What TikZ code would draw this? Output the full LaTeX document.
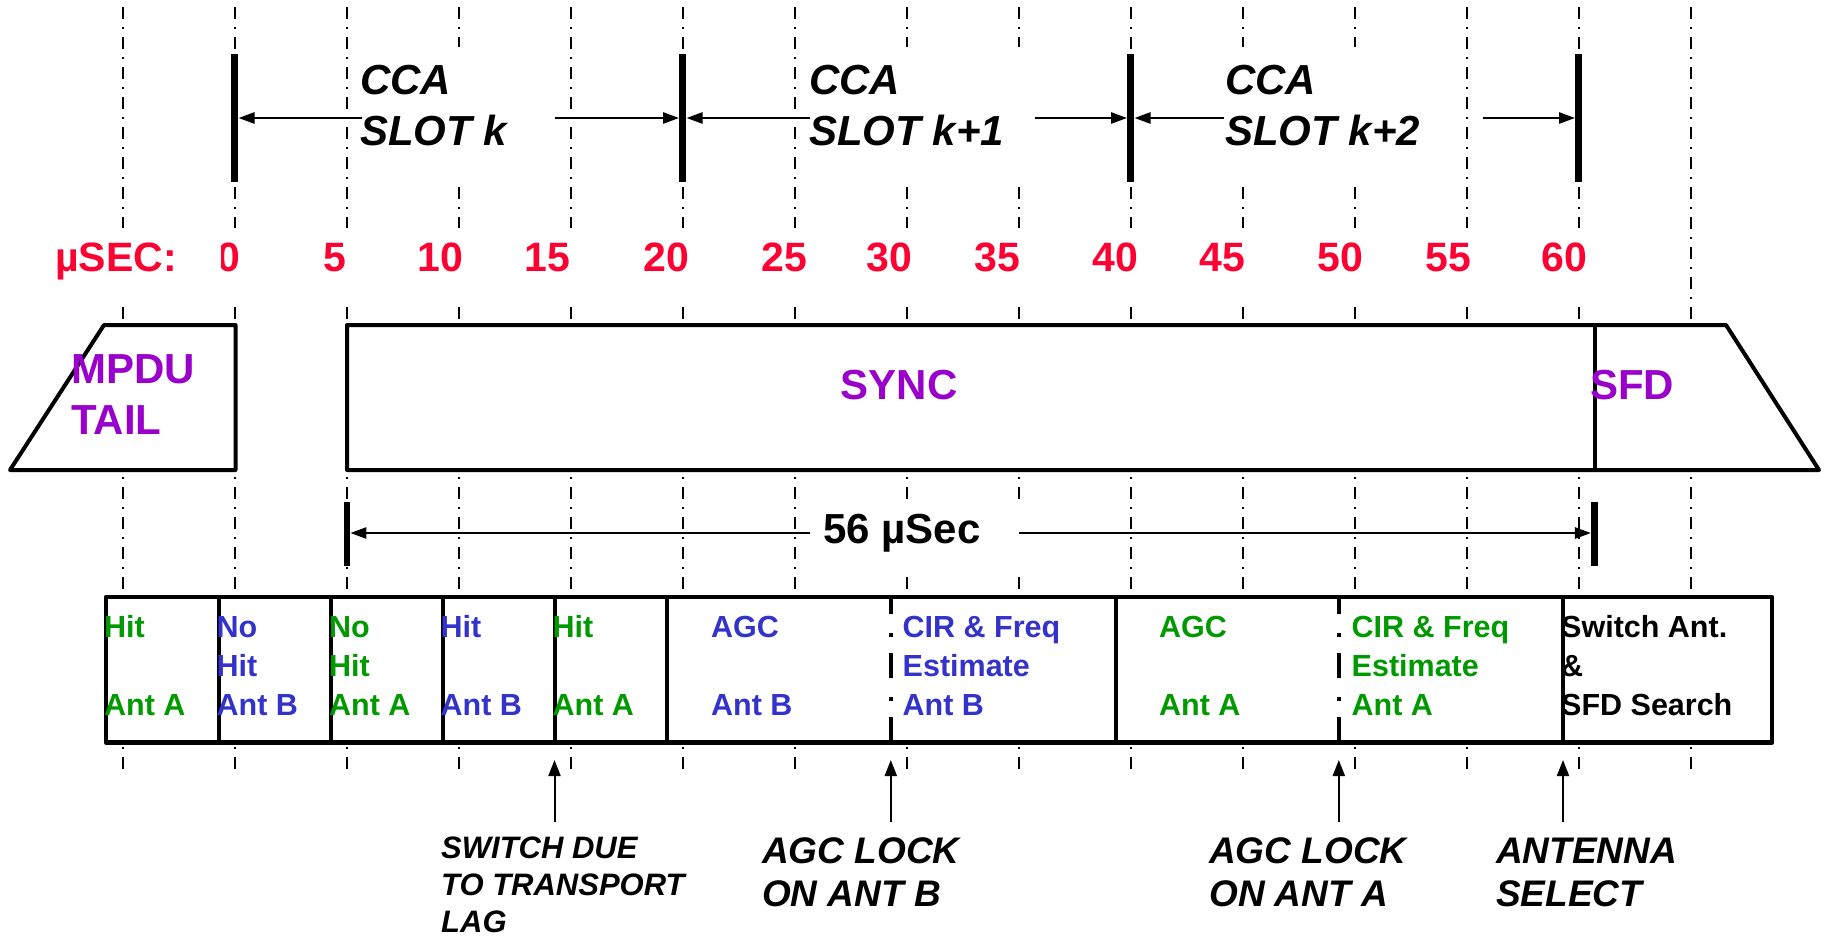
\documentclass[tikz,border=0pt]{standalone}
\usepackage{fontspec}
\setmainfont{Liberation Sans}
\usetikzlibrary{arrows.meta}
\definecolor{cred}{HTML}{FF0033}
\definecolor{cgreen}{HTML}{009900}
\definecolor{cblue}{HTML}{3333CC}
\definecolor{cpurple}{HTML}{9900CC}
\begin{document}
\begin{tikzpicture}[x=1pt,y=-1pt,
  bgline/.style={line width=2pt, dash pattern=on 12pt off 8pt on 2pt off 8pt},
  frame/.style={line width=4pt, line join=round},
  divider/.style={line width=4pt},
  dashdiv/.style={line width=4.5pt, dash pattern=on 25pt off 19pt on 4pt off 16pt, dash phase=8pt},
  bar/.style={fill=black, inner sep=0pt, minimum width=7pt, minimum height=128pt},
  sbar/.style={fill=black, inner sep=0pt, minimum width=6.5pt, minimum height=64pt},
  arr/.style={line width=2.5pt, -{Triangle[length=16pt,width=11pt]}},
  uparr/.style={line width=2pt, -{Triangle[length=16pt,width=12pt]}},
  lbl/.style={inner sep=0pt, anchor=base west, align=left},
  cca/.style={lbl, font=\fontsize{42}{51}\selectfont\bfseries\itshape},
  tick/.style={inner sep=0pt, anchor=base east, text=cred, font=\fontsize{41}{48}\selectfont\bfseries},
  field/.style={inner sep=0pt, text=cpurple, font=\fontsize{42}{51}\selectfont\bfseries},
  cell/.style={lbl, font=\fontsize{30.5}{39}\selectfont\bfseries},
  note/.style={lbl, font=\fontsize{37}{43.4}\selectfont\bfseries\itshape},
  smallnote/.style={lbl, font=\fontsize{31}{37}\selectfont\bfseries\itshape}
]
\useasboundingbox (0,0) rectangle (1826,939);
\fill[white] (0,0) rectangle (1826,939);

% background dash-dot time lines
\foreach \t in {-5,0,...,65} {
  \pgfmathsetmacro{\xx}{234.8+22.4*\t}
  \draw[bgline] (\xx,7) -- (\xx,773);
}

% white backgrounds of text boxes
\fill[white] (50,228) rectangle (1620,300);
\fill[white] (361,47) rectangle (555,181);
\fill[white] (810,47) rectangle (1035,181);
\fill[white] (1226,47) rectangle (1462,181);
\fill[white] (811,501) rectangle (1021,577);

% CCA slot bars
\node[bar] (b0)  at (234.8,118) {};
\node[bar] (b20) at (682.8,118) {};
\node[bar] (b40) at (1130.8,118) {};
\node[bar] (b60) at (1578.8,118) {};

% CCA texts (base = last line)
\node[cca] (cca1) at (360,146) {CCA\\SLOT k};
\node[cca] (cca2) at (809,146) {CCA\\SLOT k+1};
\node[cca] (cca3) at (1225,146) {CCA\\SLOT k+2};

% CCA arrows
\coordinate (c1l) at (362,118);
\coordinate (c1r) at (555,118);
\coordinate (c2l) at (810,118);
\coordinate (c2r) at (1035,118);
\coordinate (c3l) at (1224,118);
\coordinate (c3r) at (1483,118);
\draw[arr] (c1l) -- (c1l -| b0.east);
\draw[arr] (c1r) -- (c1r -| b20.west);
\draw[arr] (c2l) -- (c2l -| b20.east);
\draw[arr] (c2r) -- (c2r -| b40.west);
\draw[arr] (c3l) -- (c3l -| b40.east);
\draw[arr] (c3r) -- (c3r -| b60.west);

% time labels
\node[tick] (n0) at (240,271.5) {0};
\fill[white] (181,236) rectangle (221,278);
\node[tick, anchor=base west] (usec) at (55,271.5) {µSEC:};
\node[tick] (n5)  at (346,271.5) {5};
\node[tick] (n10) at (463.7,271.5) {10};
\node[tick] (n15) at (570.7,271.5) {15};
\node[tick] (n20) at (689.2,271.5) {20};
\node[tick] (n25) at (807.7,271.5) {25};
\node[tick] (n30) at (912.7,271.5) {30};
\node[tick] (n35) at (1020.7,271.5) {35};
\node[tick] (n40) at (1138.3,271.5) {40};
\node[tick] (n45) at (1245.5,271.5) {45};
\node[tick] (n50) at (1363.7,271.5) {50};
\node[tick] (n55) at (1471,271.5) {55};
\node[tick] (n60) at (1587.7,271.5) {60};

% frame fields
\draw[frame, fill=white] (104,325) -- (235.5,325) -- (235.5,470) -- (10,470) -- cycle;
\draw[frame, fill=white] (347,325) -- (1726,325) -- (1819,470) -- (347,470) -- cycle;
\draw[frame] (1595,325) -- (1595,470);
\node[field, lbl] (mpdu) at (71,434.3) {MPDU\\TAIL};
\node[field, anchor=base] (sync) at (899,399) {SYNC};
\node[field, anchor=base west] (sfd) at (1590,399) {SFD};

% 56 usec
\node[sbar] (s1) at (346.9,534) {};
\node[sbar] (s2) at (1594.4,534) {};
\node[lbl, font=\fontsize{42}{51}\selectfont\bfseries] (dur) at (823,543.3) {56 µSec};
\coordinate (d1) at (810,533);
\coordinate (d2) at (1019,533);
\draw[arr] (d1) -- (d1 -| s1.east);
\draw[arr] (d2) -- (d2 -| s2.west);

% table
\draw[line width=4.5pt, fill=white, line join=round] (106,597) rectangle (1772,742.5);
\foreach \xx in {218.7,331.2,442.6,554.5,667,1115.5,1563} {
  \draw[divider] (\xx,597) -- (\xx,742.5);
}
\draw[dashdiv] (890.8,597) -- (890.8,742.5);
\draw[dashdiv] (1338.8,597) -- (1338.8,742.5);

\node[cell, text=cgreen] (t1) at (104,715) {Hit\\\mbox{}\\Ant A};
\node[cell, text=cblue]  (t2) at (216.5,715) {No\\Hit\\Ant B};
\node[cell, text=cgreen] (t3) at (329,715) {No\\Hit\\Ant A};
\node[cell, text=cblue]  (t4) at (440.5,715) {Hit\\\mbox{}\\Ant B};
\node[cell, text=cgreen] (t5) at (552.5,715) {Hit\\\mbox{}\\Ant A};
\node[cell, text=cblue]  (t6) at (711,715) {AGC\\\mbox{}\\Ant B};
\node[cell, text=cblue]  (t7) at (902.5,715) {CIR \& Freq\\Estimate\\Ant B};
\node[cell, text=cgreen] (t8) at (1159,715) {AGC\\\mbox{}\\Ant A};
\node[cell, text=cgreen] (t9) at (1351.5,715) {CIR \& Freq\\Estimate\\Ant A};
\node[cell, text=black]  (t10) at (1561,715) {Switch Ant.\\\&\\SFD Search};

% event arrows
\coordinate (e1s) at (554.5,822);  \coordinate (e1e) at (554.5,760);
\coordinate (e2s) at (890.8,822);  \coordinate (e2e) at (890.8,760);
\coordinate (e3s) at (1338.8,822); \coordinate (e3e) at (1338.8,760);
\coordinate (e4s) at (1563,822);   \coordinate (e4e) at (1563,760);
\draw[uparr] (e1s) -- (e1e);
\draw[uparr] (e2s) -- (e2e);
\draw[uparr] (e3s) -- (e3e);
\draw[uparr] (e4s) -- (e4e);

\node[smallnote] (l1) at (441,932) {SWITCH DUE\\TO TRANSPORT\\LAG};
\node[note] (l2) at (762,906.7) {AGC LOCK\\ON ANT B};
\node[note] (l3) at (1209,906.7) {AGC LOCK\\ON ANT A};
\node[note] (l4) at (1496,906.7) {ANTENNA\\SELECT};
\end{tikzpicture}
\end{document}
